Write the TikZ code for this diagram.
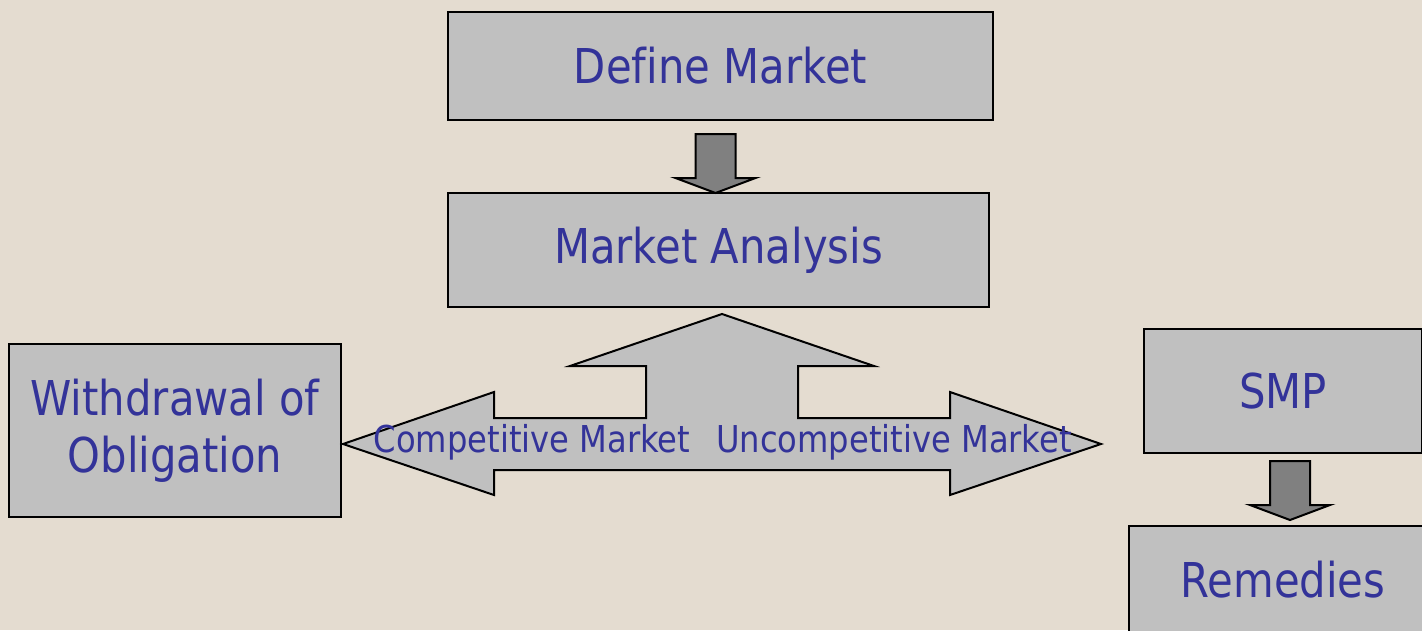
\documentclass[tikz,border=0pt]{standalone}
\usepackage{fontspec}
\setmainfont[FakeStretch=0.87, Ligatures=NoCommon]{DejaVu Sans}
\usepackage{xcolor}
\usepackage{tikz}
\usetikzlibrary{shapes,arrows,arrows.meta,positioning,calc}

\definecolor{paper}{HTML}{E4DCD0}
\definecolor{boxgray}{HTML}{C0C0C0}
\definecolor{arrowgray}{HTML}{808080}
\definecolor{navytext}{HTML}{333399}

\tikzset{
    stagebox/.style={draw=black, line width=2pt, fill=boxgray, text=navytext,
        align=center, inner sep=0pt, font=\fontsize{48}{57}\selectfont},
    marketlabel/.style={text=navytext, inner sep=0pt, font=\fontsize{37}{44}\selectfont},
    fatdown/.pic={
        \draw[line width=2pt, fill=arrowgray, line join=miter]
            (-20,0) -- (20,0) -- (20,44) -- (40,44) -- (0,59) -- (-40,44) -- (-20,44) -- cycle;
    }
}

\begin{document}
\begin{tikzpicture}[x=1pt, y=-1pt]
        \fill[paper] (0,0) rectangle (1422,630);
        \useasboundingbox (0,0) rectangle (1422,630);
        \clip (0,0) rectangle (1422,630);

        % main flow
        \node[stagebox, minimum width=545pt, minimum height=108pt] (define) at (720.5,66) {Define Market};
        \node[stagebox, minimum width=541pt, minimum height=114pt] (analysis) at (718.5,250) {Market Analysis};
        \pic at ($(define.south)+(-5,13)$) {fatdown};

        % outcomes
        \node[stagebox, minimum width=332pt, minimum height=173pt] (withdraw) at (175,430.5) {Withdrawal of\\Obligation};
        \node[stagebox, minimum width=278pt, minimum height=124pt] (smp) at (1283,391) {SMP};
        \node[stagebox, minimum width=308pt, minimum height=108pt] (remedies) at (1283,580) {Remedies};
        \pic at ($(smp.south)+(7,7)$) {fatdown};

        % three-way arrow under the analysis box
        \draw[line width=2pt, fill=boxgray, line join=miter]
            (722,314) -- (874,366) -- (798,366) -- (798,418) -- (950,418) -- (950,392)
            -- (1101,444) -- (950,495) -- (950,470) -- (494,470) -- (494,495)
            -- (343,444) -- (494,392) -- (494,418) -- (646,418) -- (646,366)
            -- (570,366) -- cycle;
        \node[marketlabel] (competitive) at (532,442) {Competitive Market};
        \node[marketlabel] (uncompetitive) at (894,442) {Uncompetitive Market};
        \end{tikzpicture}
\end{document}
